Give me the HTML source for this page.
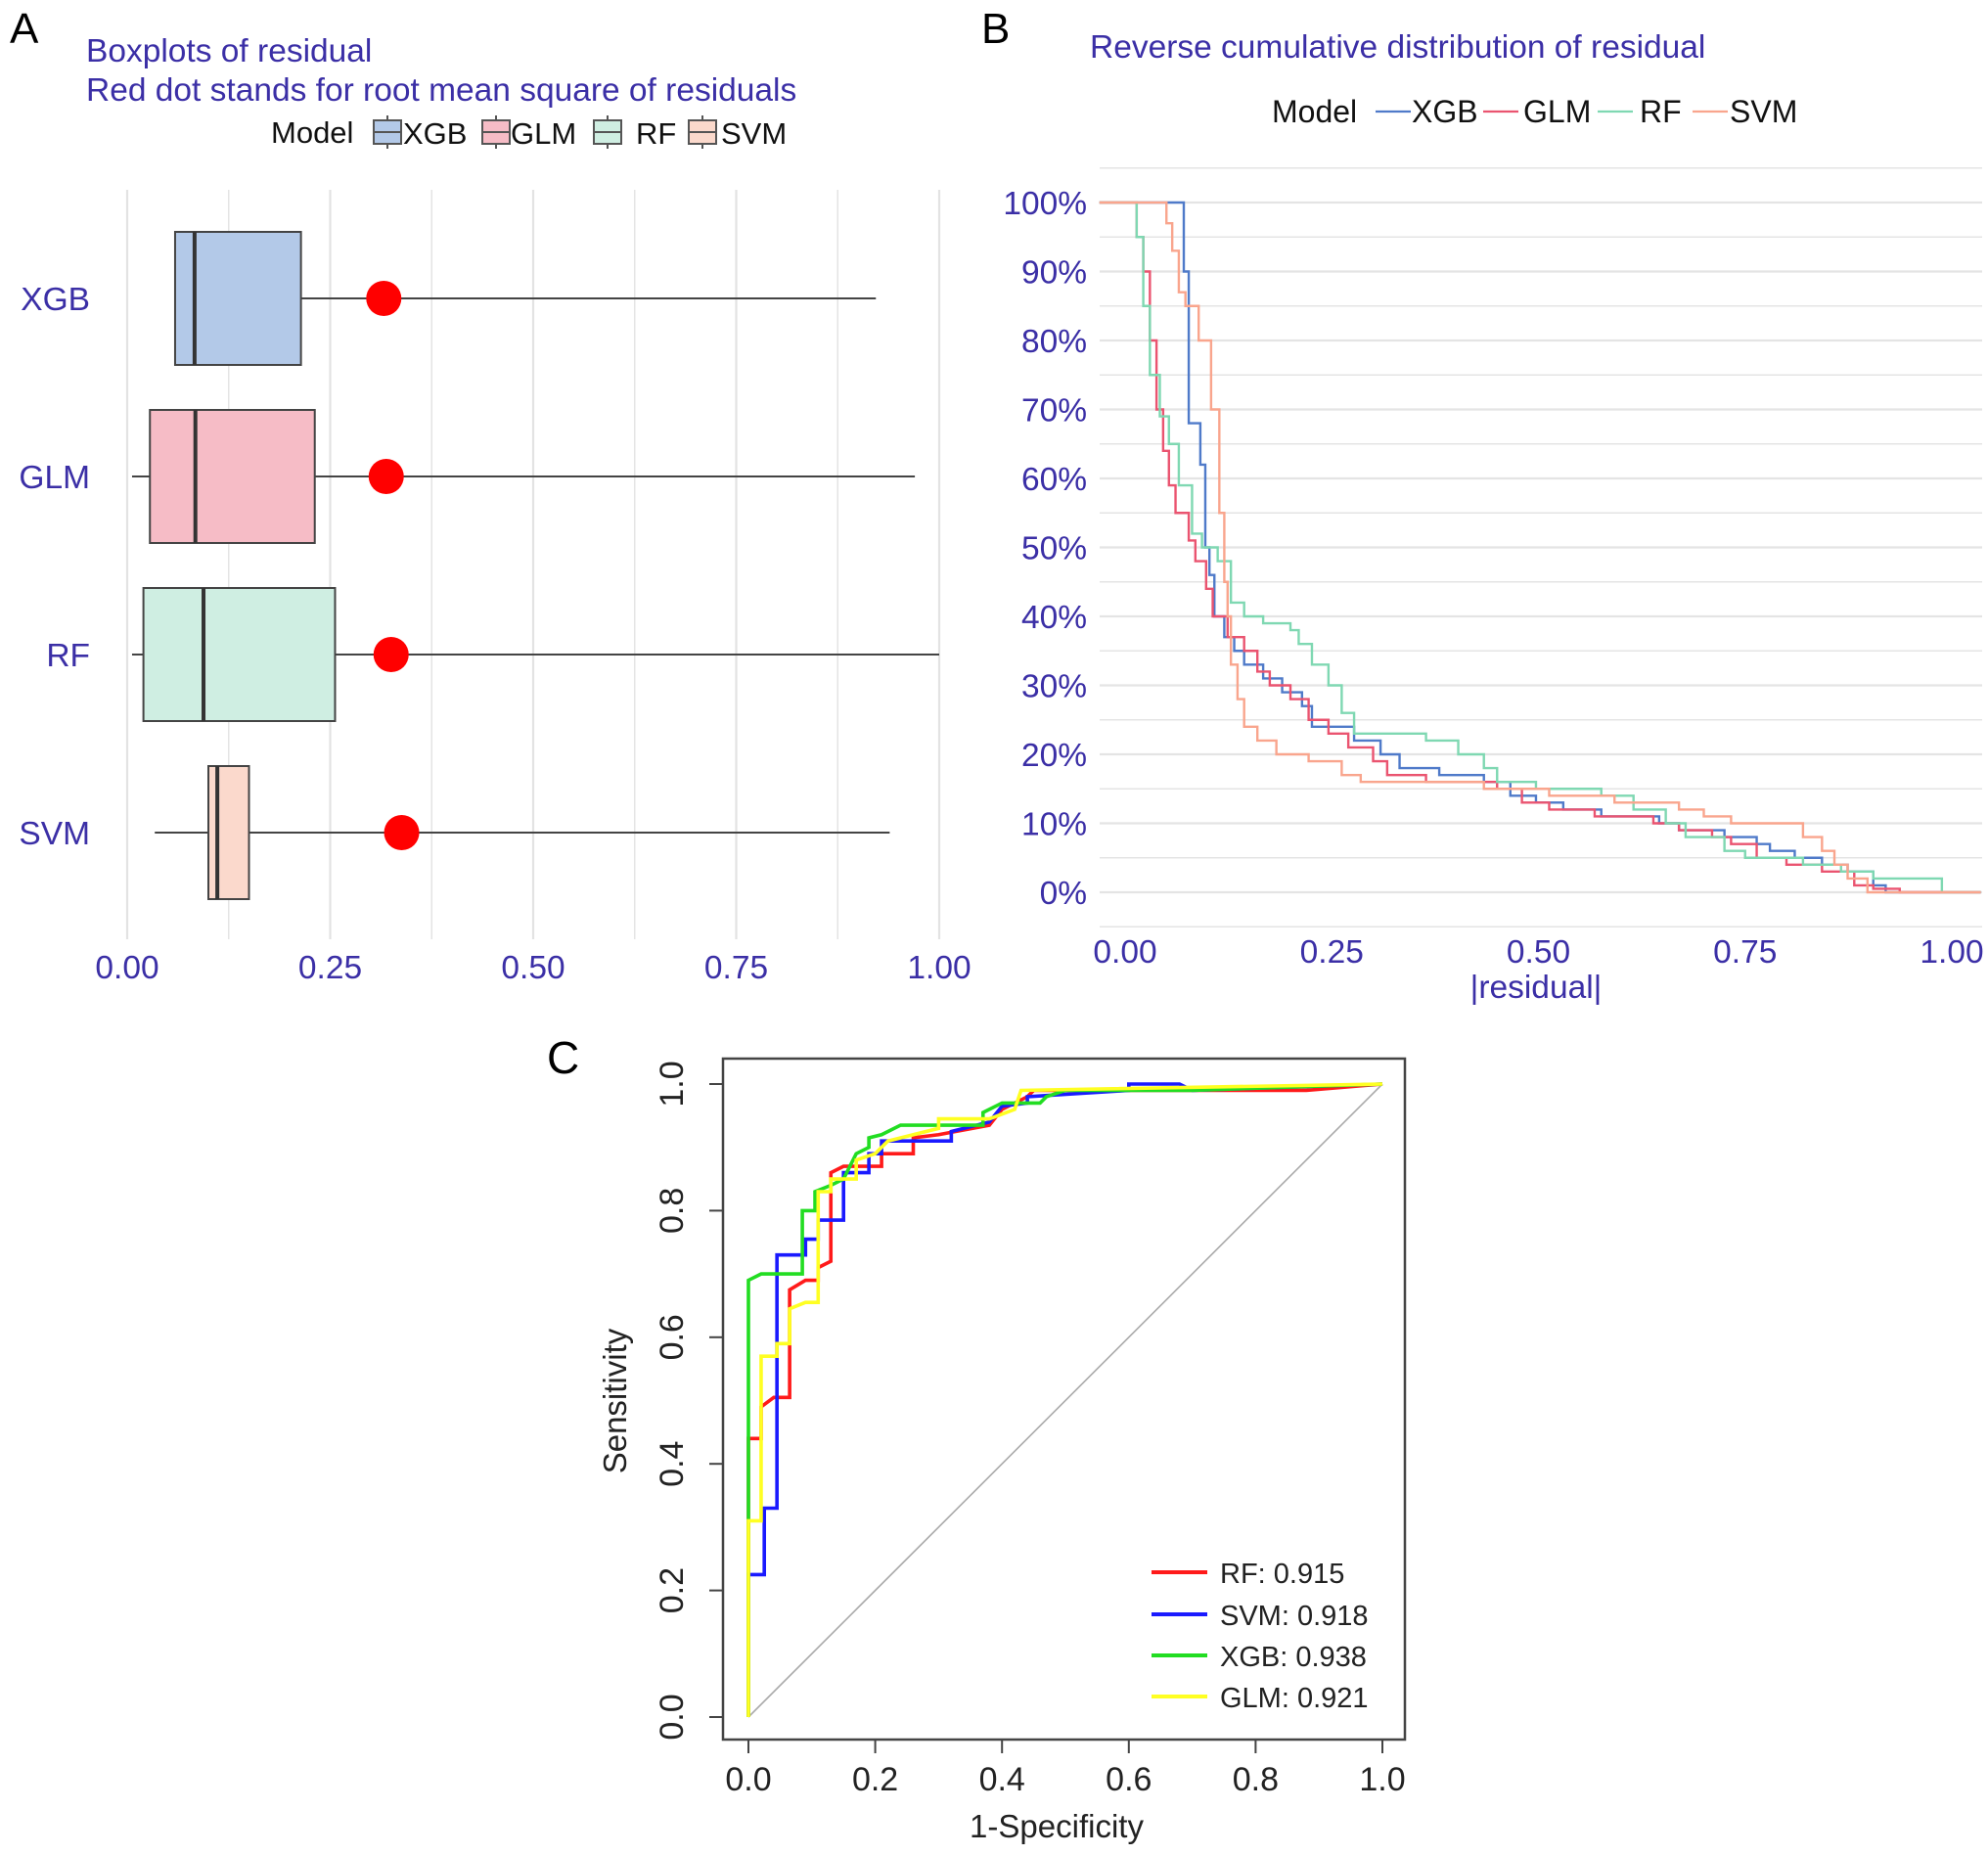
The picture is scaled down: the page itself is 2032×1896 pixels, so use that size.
<!DOCTYPE html>
<html><head><meta charset="utf-8">
<style>
html,body{margin:0;padding:0;background:#fff;}
svg{display:block;font-family:"Liberation Sans",Arial,sans-serif;}
</style></head>
<body>
<svg id="fig" width="2032" height="1896" viewBox="0 0 2032 1896" xmlns="http://www.w3.org/2000/svg">
<g id="pA"></g>
<g id="pB"></g>
<g id="pC"></g>
</svg>
<script>
// ---------- Panel A data ----------
const boxModels = ["XGB","GLM","RF","SVM"];
const boxWhiskLo = [0.058,0.006,0.006,0.034];
const boxQ1 = [0.059,0.028,0.020,0.100];
const boxMedian = [0.083,0.084,0.094,0.111];
const boxQ3 = [0.214,0.231,0.256,0.150];
const boxWhiskHi = [0.922,0.970,1.000,0.939];
const boxRmse = [0.316,0.319,0.325,0.338];
const boxTicks = [0,0.25,0.5,0.75,1.0];
const boxTickLabels = ["0.00","0.25","0.50","0.75","1.00"];

// ---------- Panel B data ----------
const cdfModels = ["XGB","GLM","RF","SVM"];
const cdfXGBx = [0.071,0.077,0.091,0.097,0.102,0.108,0.12,0.132,0.144,0.167,0.19,0.214,0.226,0.277,0.309,0.332,0.38,0.434,0.466,0.497,0.53,0.576,0.646,0.67,0.725,0.764,0.78,0.81,0.843,0.874,0.905,0.92];
const cdfXGBy = [0.90,0.68,0.62,0.50,0.46,0.40,0.37,0.35,0.33,0.31,0.29,0.27,0.24,0.22,0.20,0.18,0.17,0.16,0.14,0.13,0.12,0.11,0.10,0.09,0.08,0.07,0.06,0.05,0.04,0.03,0.01,0.0];
const cdfGLMx = [0.014,0.022,0.03,0.038,0.046,0.053,0.061,0.077,0.085,0.098,0.106,0.124,0.144,0.16,0.175,0.2,0.222,0.246,0.27,0.3,0.317,0.364,0.45,0.48,0.513,0.568,0.639,0.67,0.71,0.733,0.764,0.8,0.843,0.882,0.905,0.937,0.984];
const cdfGLMy = [0.95,0.90,0.80,0.70,0.64,0.59,0.55,0.51,0.48,0.44,0.40,0.37,0.35,0.32,0.30,0.28,0.25,0.23,0.21,0.19,0.17,0.16,0.15,0.13,0.12,0.11,0.10,0.09,0.08,0.07,0.05,0.04,0.03,0.01,0.005,0.0,0.0];
const cdfRFx = [0.014,0.022,0.03,0.042,0.053,0.065,0.081,0.093,0.112,0.128,0.144,0.167,0.2,0.21,0.226,0.246,0.262,0.277,0.364,0.403,0.434,0.45,0.497,0.576,0.615,0.654,0.678,0.725,0.75,0.82,0.866,0.905,0.988];
const cdfRFy = [0.95,0.85,0.75,0.69,0.65,0.59,0.52,0.50,0.48,0.42,0.40,0.39,0.38,0.36,0.33,0.30,0.26,0.23,0.22,0.20,0.18,0.16,0.15,0.14,0.12,0.10,0.08,0.06,0.05,0.04,0.03,0.02,0.0];
const cdfSVMx = [0.05,0.057,0.065,0.073,0.089,0.104,0.114,0.12,0.124,0.128,0.136,0.144,0.16,0.183,0.222,0.262,0.285,0.434,0.513,0.592,0.67,0.7,0.733,0.82,0.843,0.858,0.874,0.898,1.0];
const cdfSVMy = [0.97,0.93,0.87,0.85,0.80,0.70,0.55,0.45,0.40,0.33,0.28,0.24,0.22,0.20,0.19,0.17,0.16,0.15,0.14,0.13,0.12,0.11,0.10,0.08,0.06,0.04,0.02,0.0,0.0];
const cdfXTicks = [0,0.25,0.5,0.75,1.0];
const cdfXTickLabels = ["0.00","0.25","0.50","0.75","1.00"];
const cdfYTicks = [1,0.9,0.8,0.7,0.6,0.5,0.4,0.3,0.2,0.1,0];
const cdfYTickLabels = ["100%","90%","80%","70%","60%","50%","40%","30%","20%","10%","0%"];

// ---------- Panel C data ----------
const rocModels = ["RF","SVM","XGB","GLM"];
const rocAUC = ["0.915","0.918","0.938","0.921"];
const rocRFx = [0,0,0.02,0.02,0.04,0.065,0.065,0.09,0.11,0.11,0.13,0.13,0.15,0.21,0.21,0.26,0.26,0.3,0.38,0.40,0.44,0.45,0.7,0.88,1];
const rocRFy = [0,0.44,0.44,0.49,0.505,0.505,0.675,0.69,0.69,0.71,0.72,0.86,0.87,0.87,0.89,0.89,0.915,0.92,0.935,0.96,0.98,0.99,0.99,0.99,1];
const rocSVMx = [0,0,0.025,0.025,0.045,0.045,0.09,0.09,0.11,0.11,0.15,0.15,0.19,0.19,0.21,0.21,0.32,0.32,0.34,0.38,0.40,0.44,0.44,0.6,0.6,0.68,0.7,1];
const rocSVMy = [0,0.225,0.225,0.33,0.33,0.73,0.73,0.755,0.755,0.785,0.785,0.86,0.86,0.89,0.89,0.91,0.91,0.925,0.93,0.94,0.965,0.97,0.98,0.99,1.0,1.0,0.99,1];
const rocXGBx = [0,0,0.02,0.085,0.085,0.105,0.105,0.13,0.15,0.17,0.19,0.19,0.21,0.24,0.37,0.37,0.40,0.46,0.47,0.5,0.7,1];
const rocXGBy = [0,0.69,0.70,0.70,0.80,0.80,0.83,0.84,0.85,0.89,0.90,0.915,0.92,0.935,0.935,0.955,0.97,0.97,0.98,0.99,0.99,1];
const rocGLMx = [0,0,0.02,0.02,0.045,0.045,0.065,0.065,0.09,0.11,0.11,0.13,0.13,0.17,0.17,0.2,0.22,0.3,0.3,0.38,0.42,0.43,1];
const rocGLMy = [0,0.31,0.31,0.57,0.57,0.59,0.59,0.645,0.655,0.655,0.83,0.83,0.85,0.85,0.88,0.89,0.91,0.93,0.945,0.945,0.96,0.99,1];
const rocTicks = [0,0.2,0.4,0.6,0.8,1.0];
const rocTickLabels = ["0.0","0.2","0.4","0.6","0.8","1.0"];

const NS="http://www.w3.org/2000/svg";
function mk(parent,tag,attrs,text){const e=document.createElementNS(NS,tag);for(const k in attrs)e.setAttribute(k,attrs[k]);if(text!==undefined)e.textContent=text;parent.appendChild(e);return e;}
const BLUE="#3b2fa6";

// ===== Panel A =====
(function(){
const g=document.getElementById('pA');
const ax=v=>130+v*830;
const rowY=[305,487,669,851];
const fills=["#b3c9e8","#f6bcc6","#cfeee2","#fbd9cc"];
let t=mk(g,'text',{x:10,y:44,'font-size':44,fill:'#000'},'A');

t=mk(g,'text',{x:88,y:63,'font-size':33.5,fill:BLUE},'Boxplots of residual');

t=mk(g,'text',{x:88,y:103,'font-size':33.5,fill:BLUE},'Red dot stands for root mean square of residuals');

// legend
t=mk(g,'text',{x:277,y:146,'font-size':31,fill:'#111'},'Model');

const keyX=[382,493,607,704],txtX=[412,522,650,737];
for(let i=0;i<4;i++){
 const lg=mk(g,'g',{});
 
 mk(lg,'line',{x1:keyX[i]+14,x2:keyX[i]+14,y1:118,y2:152,stroke:'#555','stroke-width':2});
 mk(lg,'rect',{x:keyX[i],y:123,width:28,height:24,fill:fills[i],stroke:'#555','stroke-width':2});
 mk(lg,'line',{x1:keyX[i],x2:keyX[i]+28,y1:135,y2:135,stroke:'#555','stroke-width':2});
 mk(lg,'text',{x:txtX[i],y:147,'font-size':31,fill:'#111'},boxModels[i]);
}
// grid
for(let v=0;v<=1.0001;v+=0.125){
 const l=mk(g,'line',{x1:ax(v),x2:ax(v),y1:194,y2:960,stroke:'#e3e3e3','stroke-width':(Math.round(v*8)%2==0)?2.2:1.4});
 
}
boxTicks.forEach((v,i)=>{const tt=mk(g,'text',{x:ax(v),y:1000,'font-size':33.5,fill:BLUE,'text-anchor':'middle'},boxTickLabels[i]);
 });
boxModels.forEach((m,i)=>{
 const y=rowY[i];
 const tt=mk(g,'text',{x:92,y:y+12,'font-size':33.5,fill:BLUE,'text-anchor':'end'},m);
 
 const bg=mk(g,'g',{});
 
 mk(bg,'line',{x1:ax(boxWhiskLo[i]),x2:ax(boxWhiskHi[i]),y1:y,y2:y,stroke:'#444','stroke-width':2});
 mk(bg,'rect',{x:ax(boxQ1[i]),y:y-68,width:ax(boxQ3[i])-ax(boxQ1[i]),height:136,fill:fills[i],stroke:'#444','stroke-width':2});
 mk(bg,'line',{x1:ax(boxMedian[i]),x2:ax(boxMedian[i]),y1:y-68,y2:y+68,stroke:'#333','stroke-width':4});
 const c=mk(g,'circle',{cx:ax(boxRmse[i]),cy:y,r:18,fill:'#ff0000'});
 
});
})();

// ===== Panel B =====
(function(){
const g=document.getElementById('pB');
const ax=v=>1150+v*845;
const ay=v=>912-v*705;
let t=mk(g,'text',{x:1003,y:44,'font-size':44,fill:'#000'},'B');

t=mk(g,'text',{x:1114,y:59,'font-size':33.5,fill:BLUE},'Reverse cumulative distribution of residual');

const cols=["#4f7ac9","#ea5470","#7fd8b2","#f9a58d"];
t=mk(g,'text',{x:1300,y:125,'font-size':32,fill:'#111'},'Model');

const lx=[1406,1516,1633,1730],tx=[1443,1557,1676,1768];
cdfModels.forEach((m,i)=>{
 const lg=mk(g,'g',{});
 
 mk(lg,'line',{x1:lx[i],x2:lx[i]+36,y1:114,y2:114,stroke:cols[i],'stroke-width':2.2});
 mk(lg,'text',{x:tx[i],y:125,'font-size':32,fill:'#111'},m);
});
// grid
for(let k=-1;k<=21;k++){
 const v=k*0.05;
 const l=mk(g,'line',{x1:1124,x2:2026,y1:ay(v),y2:ay(v),stroke:'#e4e4e4','stroke-width':(k%2==0)?2.2:1.4});
 
}
cdfYTicks.forEach((v,i)=>{const tt=mk(g,'text',{x:1111,y:ay(v)+12,'font-size':33.5,fill:BLUE,'text-anchor':'end'},cdfYTickLabels[i]);
 });
cdfXTicks.forEach((v,i)=>{const tt=mk(g,'text',{x:ax(v),y:984,'font-size':33.5,fill:BLUE,'text-anchor':'middle'},cdfXTickLabels[i]);
 });
t=mk(g,'text',{x:1570,y:1020,'font-size':33.5,fill:BLUE,'text-anchor':'middle'},'|residual|');

const xs=[cdfXGBx,cdfGLMx,cdfRFx,cdfSVMx],ys=[cdfXGBy,cdfGLMy,cdfRFy,cdfSVMy];
cdfModels.forEach((m,i)=>{
 let d='M'+ax(-0.031)+','+ay(1);
 let prev=1;
 for(let j=0;j<xs[i].length;j++){d+=' L'+ax(xs[i][j])+','+ay(prev)+' L'+ax(xs[i][j])+','+ay(ys[i][j]);prev=ys[i][j];}
 d+=' L'+ax(1.035)+','+ay(prev);
 const p=mk(g,'path',{d:d,fill:'none',stroke:cols[i],'stroke-width':2.4});
 
});
})();

// ===== Panel C =====
(function(){
const g=document.getElementById('pC');
const ax=v=>765+v*648;
const ay=v=>1755-v*647;
let t=mk(g,'text',{x:559,y:1097,'font-size':46,fill:'#000'},'C');

const fr=mk(g,'rect',{x:739,y:1082,width:697,height:696,fill:'none',stroke:'#444','stroke-width':2.5});

const dg=mk(g,'line',{x1:ax(0),y1:ay(0),x2:ax(1),y2:ay(1),stroke:'#aaa','stroke-width':1.6});

rocTicks.forEach((v,i)=>{
 mk(g,'line',{x1:ax(v),x2:ax(v),y1:1778,y2:1792,stroke:'#444','stroke-width':2});
 const tx=mk(g,'text',{x:ax(v),y:1830,'font-size':34,fill:'#222','text-anchor':'middle'},rocTickLabels[i]);
 
 mk(g,'line',{x1:725,x2:739,y1:ay(v),y2:ay(v),stroke:'#444','stroke-width':2});
 const ty=mk(g,'text',{x:0,y:0,'font-size':34,fill:'#222','text-anchor':'middle',transform:'translate(698,'+ay(v)+') rotate(-90)'},rocTickLabels[i]);
 
});
t=mk(g,'text',{x:1080,y:1878,'font-size':33,fill:'#222','text-anchor':'middle'},'1-Specificity');

t=mk(g,'text',{x:0,y:0,'font-size':33,fill:'#222','text-anchor':'middle',transform:'translate(640,1432) rotate(-90)'},'Sensitivity');

const cols=["#ff1a1a","#1a1aff","#22dd22","#ffff22"];
const xs=[rocRFx,rocSVMx,rocXGBx,rocGLMx],ys=[rocRFy,rocSVMy,rocXGBy,rocGLMy];
rocModels.forEach((m,i)=>{
 const d=xs[i].map((x,j)=>(j?'L':'M')+ax(x)+','+ay(ys[i][j])).join(' ');
 const p=mk(g,'path',{d:d,fill:'none',stroke:cols[i],'stroke-width':3.6});
 
});
const ly=[1607,1650,1692,1734];
rocModels.forEach((m,i)=>{
 const lg=mk(g,'g',{});
 
 mk(lg,'line',{x1:1177,x2:1234,y1:ly[i],y2:ly[i],stroke:cols[i],'stroke-width':4});
 mk(lg,'text',{x:1247,y:ly[i]+11,'font-size':29,fill:'#222'},m+': '+rocAUC[i]);
});
})();
</script>
</body></html>
